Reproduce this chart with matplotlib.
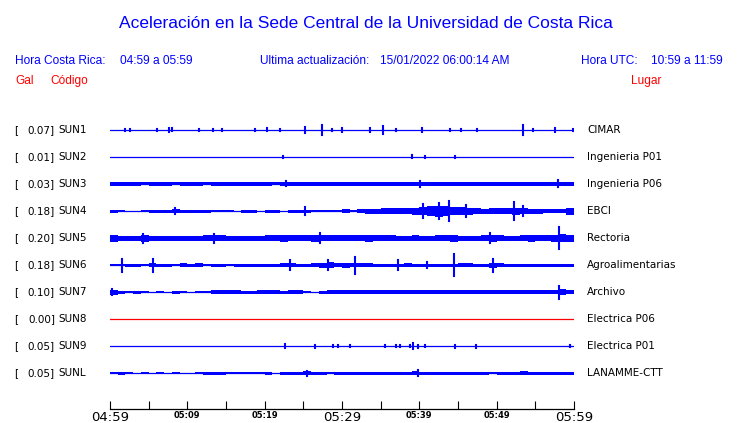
import numpy as np
import matplotlib
matplotlib.use("Agg")
import matplotlib.pyplot as plt

# station data, top to bottom
codes = ["SUN1", "SUN2", "SUN3", "SUN4", "SUN5", "SUN6", "SUN7", "SUN8", "SUN9", "SUNL"]
gals = [0.07, 0.01, 0.03, 0.18, 0.20, 0.18, 0.10, 0.00, 0.05, 0.05]
places = ["CIMAR", "Ingenieria P01", "Ingenieria P06", "EBCI", "Rectoria",
          "Agroalimentarias", "Archivo", "Electrica P06", "Electrica P01", "LANAMME-CTT"]

# envelope (half amplitude, px) for each minute from 04:59
env_sun1 = [0] * 60
env_sun2 = [0] * 60
env_sun3 = [2, 2, 2, 2, 1.5, 2, 2, 2, 1.5, 2, 2, 2, 1.5, 2, 2, 2, 2, 2, 2, 2,
            2, 1.5, 2, 2, 2, 2, 2, 2, 2, 2, 2, 2, 2, 2, 2, 2, 2, 2, 2, 2,
            2, 2, 2, 2, 2, 2, 2, 2, 2, 2, 2, 2, 2, 2, 2, 2, 2, 2, 2, 2]
env_sun4 = [1.5, 1, 0, 0, 1, 1.5, 1.5, 1.5, 2, 1.5, 1.5, 1.5, 1.5, 1, 1, 1, 0.5, 1.5, 1.5, 0.5,
            1.5, 1.5, 0.5, 1.5, 1.5, 1.5, 1, 1, 1, 1, 2, 1, 2, 2.5, 2.5, 3, 3, 3, 3, 3.5,
            4, 5, 5.5, 5, 4, 4, 3.5, 3, 2.5, 3, 3, 3, 3.5, 3, 2.5, 2.5, 2, 2, 2, 3.5]
env_sun5 = [3.5, 2.5, 2.5, 2.5, 3.5, 2.5, 2.5, 2.5, 2.5, 2.5, 2.5, 2.5, 3, 3, 3, 2.5, 2.5, 2.5, 2.5, 2.5,
            3, 3, 3.5, 3, 3, 3, 3.5, 3, 3, 3, 3, 3, 3, 3.5, 3, 3, 3, 2.5, 2.5, 3,
            2.5, 2.5, 3, 3, 3.5, 2.5, 2.5, 2.5, 3, 3.5, 3, 2.5, 2.5, 3, 3.5, 3, 3, 3.5, 4, 3.5]
env_sun6 = [1, 1, 1.5, 1.5, 1, 2, 1.5, 1.5, 1, 2, 1.5, 2, 1, 1.5, 1.5, 1, 1.5, 1.5, 1.5, 1.5,
            1.5, 1.5, 2, 2, 1.5, 1.5, 2, 2.5, 3, 2, 2.5, 2, 2, 2, 1.5, 1.5, 1.5, 1.5, 2, 1.5,
            1.5, 1.5, 1.5, 1.5, 1.5, 2, 2, 1.5, 1.5, 2.5, 2, 1.5, 1.5, 1.5, 1.5, 1.5, 1.5, 1.5, 1.5, 1.5]
env_sun7 = [2.5, 1.5, 1, 1.5, 1, 0.5, 1, 0.5, 1.5, 1, 0.5, 1, 1, 2, 2, 2, 2, 1.5, 1.5, 2,
            2, 2, 1.5, 2, 2, 1, 0.5, 1.5, 2, 2, 2, 2, 2, 2, 2, 2, 2, 2, 2, 2,
            2, 2, 2, 2, 2, 2, 2, 2, 2, 2, 2, 2, 2, 2, 2, 2, 2, 2, 3, 2]
env_sun8 = [0] * 60
env_sun9 = [0] * 60
env_sunl = [1, 1.5, 1, 0.5, 1, 0.5, 1, 0.5, 1, 0.5, 0.5, 1, 1.5, 1.5, 1.5, 1, 1, 1, 1, 1,
            1.5, 0.5, 1.5, 1.5, 1.5, 2, 1.5, 1.5, 1, 1.5, 1.5, 1.5, 1.5, 1.5, 1.5, 1.5, 1.5, 1.5, 1.5, 2,
            1.5, 1.5, 1.5, 1.5, 1.5, 1.5, 1.5, 1.5, 1.5, 1, 1.5, 1.5, 1.5, 2, 1.5, 1.5, 1.5, 1.5, 1.5, 1.5]
envelopes = [env_sun1, env_sun2, env_sun3, env_sun4, env_sun5,
             env_sun6, env_sun7, env_sun8, env_sun9, env_sunl]

# peaks (minute, half amplitude px)
spk_sun1 = [(2.0, 1), (2.6, 1), (6.1, 1), (7.6, 2), (8.0, 1.5), (11.5, 1), (13.3, 1), (14.5, 1),
            (18.8, 1), (20.3, 1.5), (22, 1), (25.2, 3), (27.4, 5), (28.7, 1), (30.0, 2), (33.6, 2),
            (35.3, 4), (37.0, 1), (40.4, 2), (44.0, 1), (45.4, 1), (47.5, 1), (53.4, 5), (54.7, 1),
            (57.6, 2), (59.9, 1)]
spk_sun2 = [(22.4, 1), (39.0, 1.5), (40.7, 0.7), (44.6, 1)]
spk_sun3 = [(22.8, 2.5), (40.1, 3), (57.9, 3.5)]
spk_sun4 = [(8.4, 3), (25.2, 4), (40.5, 7), (42.5, 8), (43.8, 10), (46, 6), (52.3, 9), (53.4, 5)]
spk_sun5 = [(4.3, 4.5), (13.5, 4.5), (27.2, 5), (49.2, 5), (58.1, 11)]
spk_sun6 = [(1.6, 6.5), (5.6, 6.5), (23.3, 5), (28.2, 5), (31.7, 8.5), (37.2, 5), (41, 3),
            (44.5, 11), (49.5, 6.5)]
spk_sun7 = [(0.3, 3), (58.1, 6.5)]
spk_sun8 = []
spk_sun9 = [(22.6, 2), (26.5, 1.5), (28.8, 1), (29.5, 1), (31, 1), (35.6, 1), (37, 1), (37.5, 1),
            (38.8, 1), (39.2, 3), (39.8, 1.5), (40.7, 1), (44.6, 1.5), (47.3, 1.5), (59.5, 1)]
spk_sunl = [(25.5, 2.5), (39.8, 3)]
spikes = [spk_sun1, spk_sun2, spk_sun3, spk_sun4, spk_sun5,
          spk_sun6, spk_sun7, spk_sun8, spk_sun9, spk_sunl]

tick_minutes = [0, 10, 20, 30, 40, 50, 60]
tick_labels = ["04:59", "05:09", "05:19", "05:29", "05:39", "05:49", "05:59"]

W, H = 740, 423
fig = plt.figure(figsize=(W / 100, H / 100), dpi=100)

def fx(px):
    return px / W

def fy(py):
    return 1 - py / H

blue = "#0000ff"
red = "#ff0000"

# axes in pixel rows: y data = pixel row
ax = fig.add_axes([fx(110), fy(409), fx(574) - fx(110), fy(112) - fy(409)])
ax.set_xlim(0, 60)
ax.set_ylim(409, 112)

minutes = np.arange(61)
for i in range(len(codes)):
    yc = 130 + 27 * i
    col = red if codes[i] == "SUN8" else blue
    env = np.array(envelopes[i] + [envelopes[i][-1]], dtype=float)
    ax.fill_between(minutes, yc - env, yc + env, step="post", color=col, lw=0)
    ax.plot([0, 60], [yc, yc], color=col, lw=0.9)
    for t, a in spikes[i]:
        ax.plot([t, t], [yc - a, yc + a], color=col, lw=1.5)

    fig.text(fx(14), fy(yc), "[", fontsize=7.5, va="center", ha="left")
    fig.text(fx(55), fy(yc), "%.2f]" % gals[i], fontsize=7.5, va="center", ha="right")
    fig.text(fx(58.5), fy(yc), codes[i], fontsize=7.5, va="center", ha="left")
    fig.text(fx(587), fy(yc), places[i], fontsize=7.5, va="center", ha="left")

for s in ["top", "left", "right"]:
    ax.spines[s].set_visible(False)
ax.spines["bottom"].set_linewidth(0.9)
ax.set_yticks([])
ax.set_xticks(tick_minutes, tick_labels)
ax.set_xticks([5, 15, 25, 35, 45, 55], minor=True)
ax.tick_params(axis="x", which="both", direction="in", length=6, width=0.8, pad=1.5)
for k, lab in enumerate(ax.get_xticklabels()):
    if tick_minutes[k] % 30 == 0:
        lab.set_fontsize(9.5)
    else:
        lab.set_fontsize(6)
        lab.set_fontweight("bold")

# header texts
hf = "Liberation Sans"
fig.text(fx(366), fy(23), "Aceleración en la Sede Central de la Universidad de Costa Rica",
         color=blue, fontsize=12.5, family=hf, ha="center", va="center")
fig.text(fx(15), fy(61), "Hora Costa Rica:", color=blue, fontsize=8.6, family=hf, va="center")
fig.text(fx(120), fy(61), "04:59 a 05:59", color=blue, fontsize=8.6, family=hf, va="center")
fig.text(fx(260), fy(61), "Ultima actualización:", color=blue, fontsize=8.6, family=hf, va="center")
fig.text(fx(380), fy(61), "15/01/2022 06:00:14 AM", color=blue, fontsize=8.6, family=hf, va="center")
fig.text(fx(581), fy(61), "Hora UTC:", color=blue, fontsize=8.6, family=hf, va="center")
fig.text(fx(651), fy(61), "10:59 a 11:59", color=blue, fontsize=8.6, family=hf, va="center")
fig.text(fx(15), fy(81), "Gal", color=red, fontsize=8.6, family=hf, va="center")
fig.text(fx(50), fy(81), "Código", color=red, fontsize=8.6, family=hf, va="center")
fig.text(fx(631), fy(81), "Lugar", color=red, fontsize=8.6, family=hf, va="center")

fig.savefig("out.png", dpi=100)
